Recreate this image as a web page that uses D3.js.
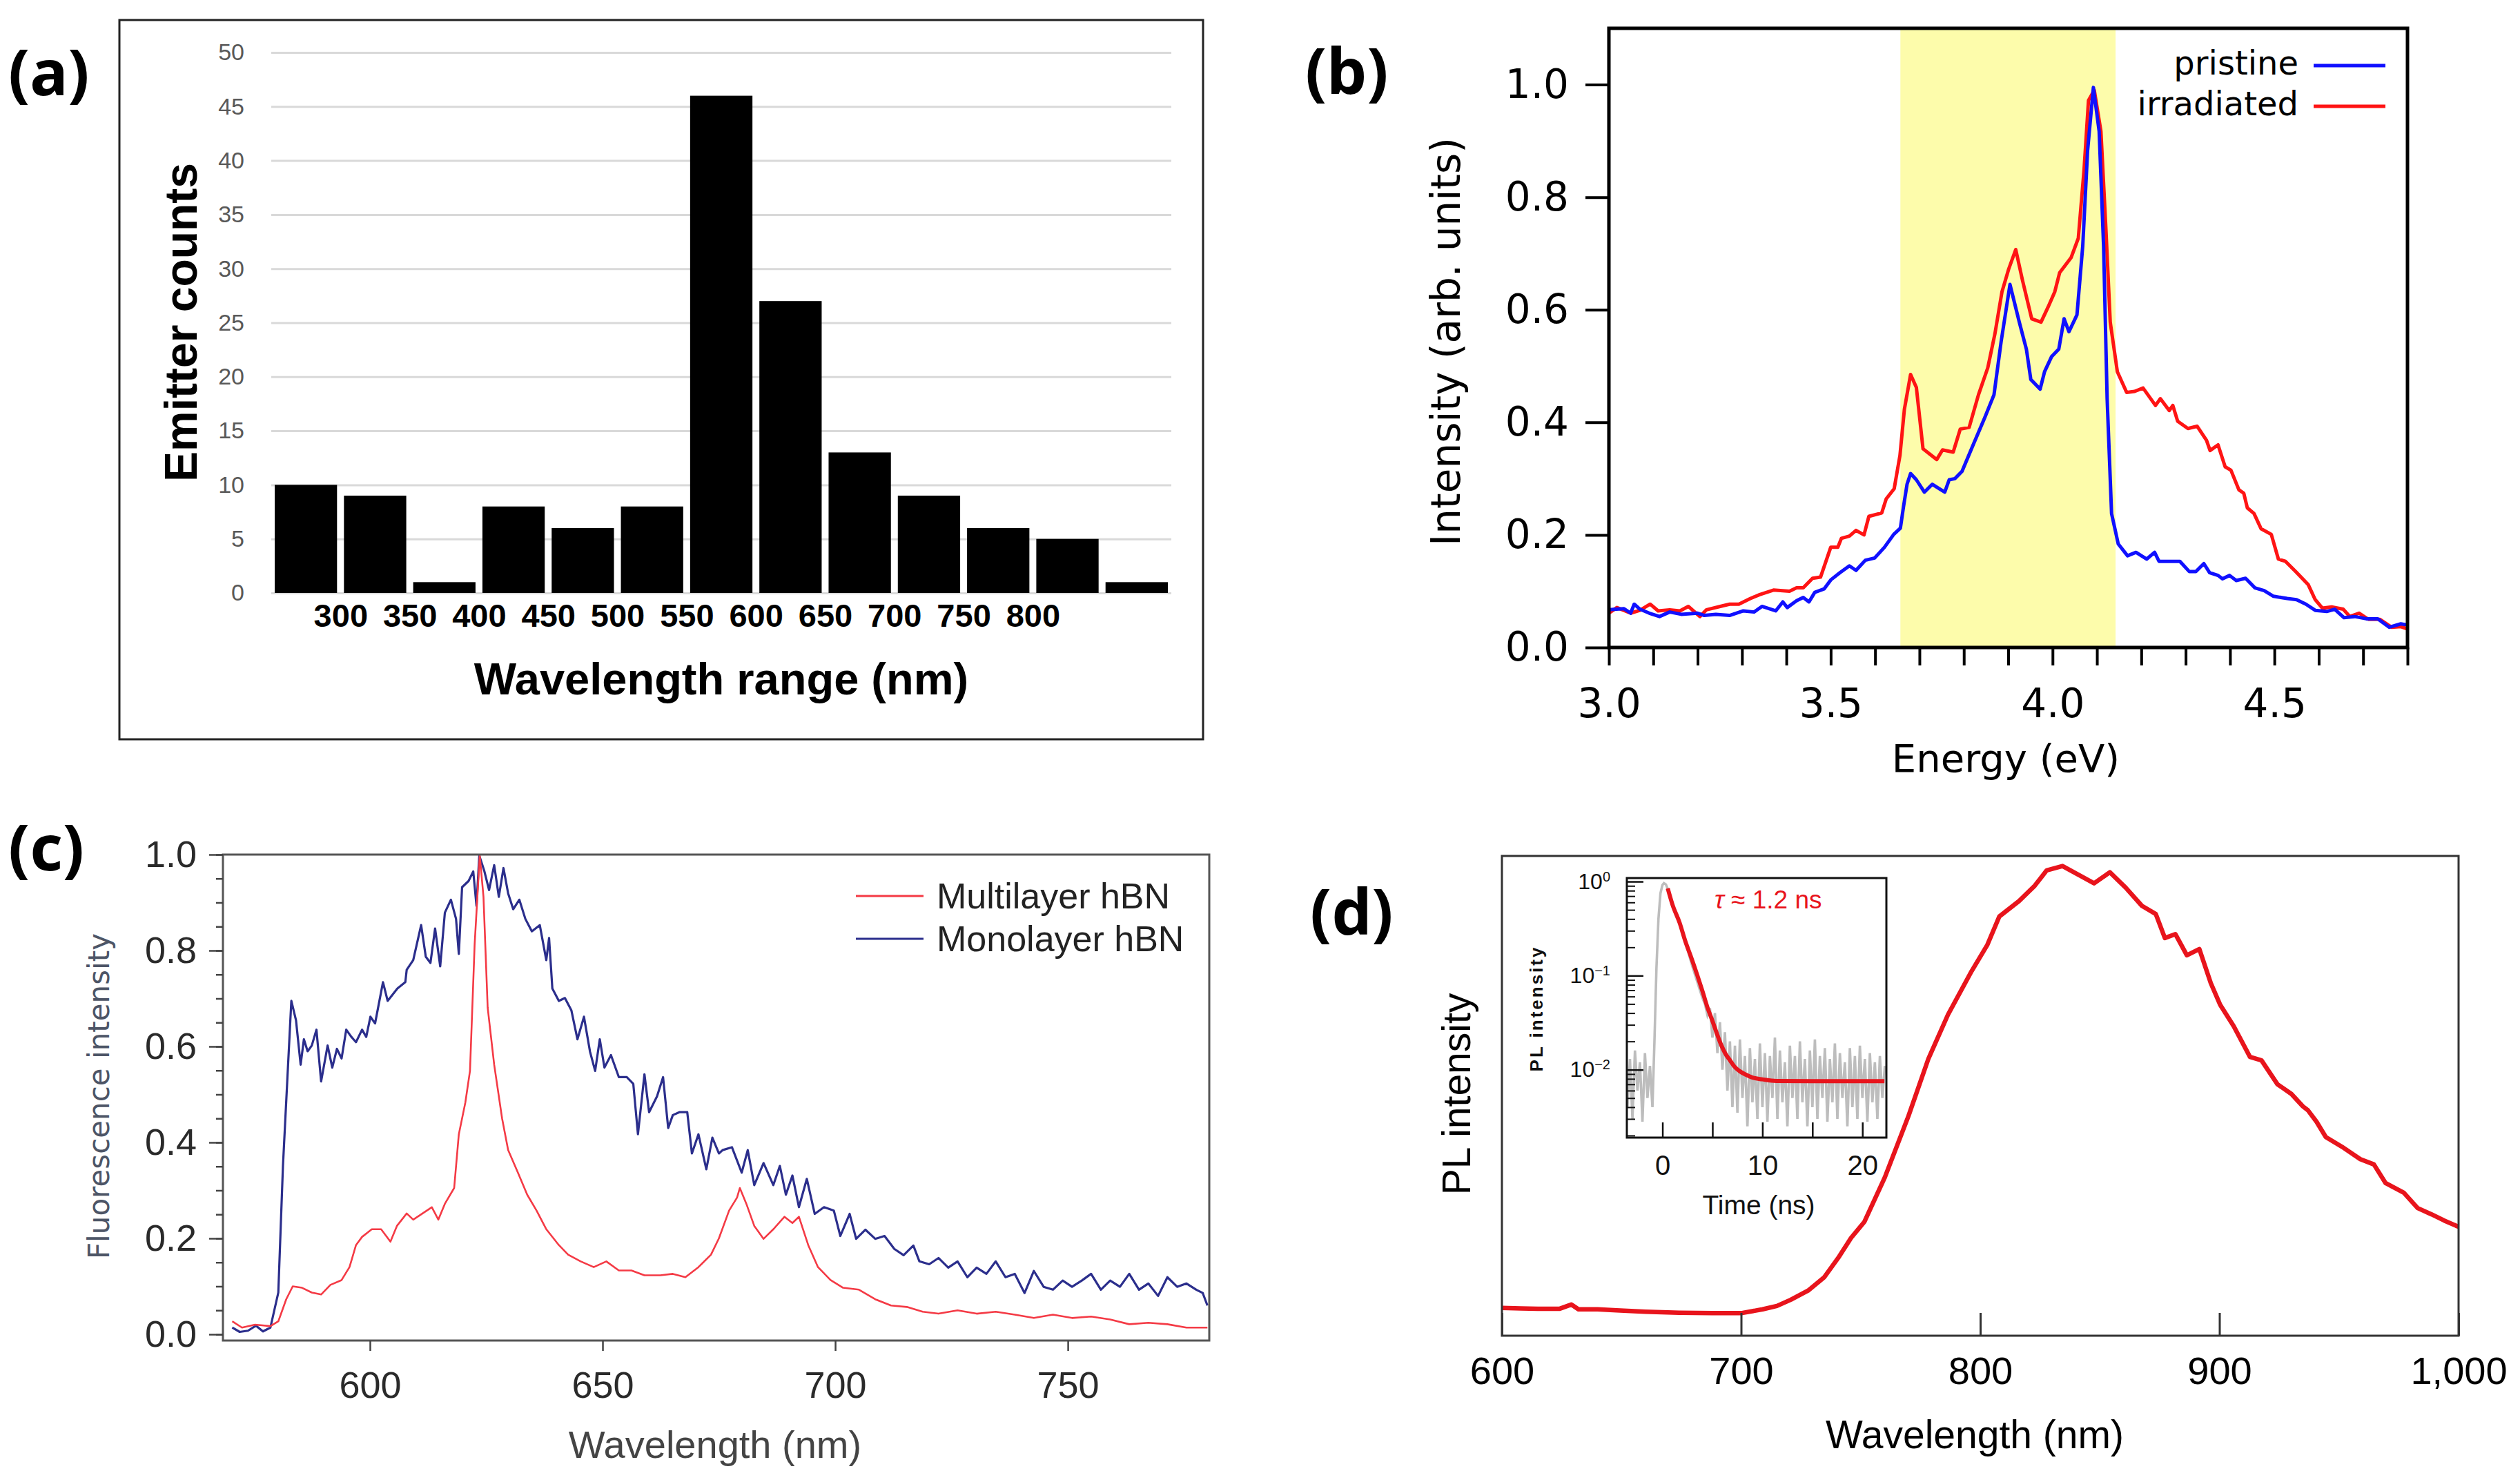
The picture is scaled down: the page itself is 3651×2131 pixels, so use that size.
<!DOCTYPE html>
<html lang="en">
<head>
<meta charset="utf-8">
<title>hBN emitters</title>
<script src="https://d3js.org/d3.v7.min.js"></script>
<style>
  body { margin: 0; background: #fff; }
  .pan { font-family: "Noto Sans", "Open Sans", sans-serif; font-weight: bold; font-size: 92px; fill: #000; }
</style>
</head>
<body>
<div id="fig"></div>
<script>
// ---------- data (a): emitter histogram ----------
var barCounts = [10, 9, 1, 8, 6, 8, 46, 27, 13, 9, 6, 5, 1];
var barTickLabels = ["300", "350", "400", "450", "500", "550", "600", "650", "700", "750", "800"];
var countTicks = [0, 5, 10, 15, 20, 25, 30, 35, 40, 45, 50];

// ---------- data (b): energy (eV), intensity ----------
var bandEV = [3.657, 4.142];
var pristine = [[3.0,0.067],[3.034,0.069],[3.049,0.061],[3.057,0.077],[3.07,0.068],[3.091,0.061],[3.114,0.055],[3.137,0.063],[3.163,0.059],[3.2,0.061],[3.215,0.057],[3.241,0.059],[3.272,0.057],[3.303,0.065],[3.327,0.063],[3.345,0.073],[3.376,0.065],[3.392,0.081],[3.402,0.071],[3.423,0.083],[3.438,0.089],[3.451,0.081],[3.464,0.098],[3.485,0.104],[3.5,0.12],[3.521,0.133],[3.542,0.145],[3.557,0.137],[3.578,0.155],[3.599,0.159],[3.621,0.178],[3.642,0.201],[3.657,0.212],[3.664,0.25],[3.672,0.29],[3.68,0.309],[3.693,0.298],[3.711,0.276],[3.729,0.29],[3.745,0.282],[3.757,0.276],[3.767,0.298],[3.78,0.3],[3.796,0.313],[3.821,0.36],[3.847,0.408],[3.868,0.449],[3.884,0.543],[3.904,0.645],[3.925,0.578],[3.941,0.53],[3.951,0.476],[3.972,0.459],[3.982,0.49],[3.998,0.517],[4.014,0.53],[4.026,0.584],[4.037,0.561],[4.055,0.591],[4.068,0.713],[4.079,0.883],[4.092,0.995],[4.105,0.917],[4.115,0.713],[4.123,0.442],[4.133,0.238],[4.148,0.184],[4.169,0.163],[4.188,0.169],[4.212,0.157],[4.23,0.169],[4.24,0.153],[4.263,0.153],[4.287,0.153],[4.308,0.135],[4.323,0.135],[4.341,0.149],[4.354,0.133],[4.373,0.128],[4.383,0.122],[4.399,0.128],[4.414,0.119],[4.435,0.123],[4.456,0.106],[4.477,0.101],[4.498,0.091],[4.529,0.087],[4.55,0.085],[4.571,0.077],[4.592,0.066],[4.618,0.064],[4.636,0.068],[4.657,0.053],[4.681,0.055],[4.707,0.051],[4.733,0.051],[4.759,0.036],[4.785,0.042],[4.8,0.04]];
var irradiated = [[3.0,0.061],[3.018,0.071],[3.049,0.061],[3.07,0.066],[3.093,0.077],[3.111,0.065],[3.137,0.067],[3.16,0.065],[3.179,0.073],[3.205,0.055],[3.22,0.067],[3.251,0.073],[3.272,0.077],[3.293,0.077],[3.319,0.087],[3.34,0.094],[3.371,0.102],[3.407,0.1],[3.423,0.106],[3.438,0.106],[3.459,0.123],[3.477,0.125],[3.5,0.178],[3.516,0.178],[3.524,0.194],[3.542,0.198],[3.557,0.208],[3.575,0.2],[3.586,0.233],[3.615,0.239],[3.625,0.264],[3.643,0.282],[3.656,0.341],[3.666,0.423],[3.68,0.485],[3.693,0.462],[3.708,0.353],[3.724,0.343],[3.739,0.334],[3.752,0.351],[3.776,0.347],[3.792,0.388],[3.812,0.391],[3.833,0.449],[3.854,0.497],[3.87,0.557],[3.886,0.632],[3.901,0.672],[3.917,0.707],[3.932,0.653],[3.953,0.584],[3.974,0.578],[3.99,0.605],[4.005,0.632],[4.016,0.666],[4.042,0.693],[4.058,0.727],[4.071,0.849],[4.081,0.972],[4.094,0.99],[4.109,0.917],[4.12,0.747],[4.13,0.578],[4.146,0.49],[4.167,0.453],[4.185,0.455],[4.204,0.461],[4.232,0.43],[4.243,0.442],[4.263,0.421],[4.271,0.43],[4.282,0.402],[4.305,0.389],[4.326,0.393],[4.347,0.368],[4.355,0.35],[4.373,0.36],[4.389,0.321],[4.402,0.315],[4.42,0.28],[4.431,0.274],[4.439,0.248],[4.454,0.238],[4.47,0.211],[4.493,0.201],[4.509,0.157],[4.525,0.153],[4.548,0.135],[4.576,0.112],[4.592,0.085],[4.608,0.07],[4.629,0.072],[4.655,0.068],[4.67,0.055],[4.691,0.061],[4.712,0.05],[4.738,0.05],[4.764,0.036],[4.785,0.037],[4.8,0.033]];
var bXTicks = [3.0, 3.5, 4.0, 4.5];
var bYTicks = [0, 0.2, 0.4, 0.6, 0.8, 1.0];

// ---------- data (c): wavelength (nm), fluorescence ----------
var monolayer = [[570.4,0.014],[572,0.005],[573.8,0.0075],[575.5,0.018],[577,0.006],[578.6,0.014],[580.3,0.087],[581.3,0.351],[582.4,0.562],[583.1,0.695],[584.1,0.655],[585.1,0.562],[585.8,0.615],[586.6,0.59],[587.5,0.602],[588.5,0.635],[589.5,0.527],[590.9,0.602],[591.9,0.556],[592.9,0.595],[593.9,0.575],[594.9,0.635],[596,0.62],[597,0.609],[598.3,0.635],[599.2,0.62],[600.1,0.662],[601.1,0.648],[602.8,0.734],[603.8,0.695],[605.9,0.721],[607.6,0.734],[607.9,0.76],[609.3,0.78],[611,0.853],[612,0.787],[613,0.774],[614,0.846],[615.1,0.767],[616.1,0.879],[617.4,0.906],[618.5,0.866],[619.1,0.793],[619.8,0.932],[621.2,0.945],[622.2,0.965],[622.9,0.893],[623.5,0.998],[624.6,0.965],[625.6,0.926],[626.7,0.978],[627.7,0.912],[628.7,0.972],[629.7,0.919],[630.8,0.886],[632.1,0.906],[633.4,0.866],[634.8,0.84],[636.5,0.853],[637.9,0.78],[638.5,0.826],[639.2,0.721],[640.6,0.695],[641.9,0.701],[643.3,0.675],[644.6,0.615],[646,0.662],[647.3,0.589],[648.4,0.549],[649.4,0.615],[650.4,0.556],[651.8,0.582],[653.5,0.536],[655.2,0.536],[656.6,0.522],[657.6,0.417],[659,0.542],[660,0.463],[661.7,0.496],[663,0.536],[664.1,0.43],[665.1,0.457],[666.5,0.463],[668.2,0.463],[669.2,0.377],[670.6,0.417],[672.3,0.344],[673.6,0.41],[675,0.377],[675.8,0.384],[677.8,0.39],[679.9,0.337],[681.2,0.384],[682.6,0.311],[684.6,0.357],[686.7,0.311],[688.1,0.351],[689.4,0.291],[690.8,0.331],[692.2,0.265],[693.9,0.324],[695.6,0.251],[697.6,0.265],[699.7,0.258],[701.1,0.205],[703.1,0.251],[704.5,0.199],[706.5,0.218],[708.6,0.199],[710.6,0.205],[712.7,0.178],[714.7,0.165],[716.8,0.185],[718.1,0.152],[720.2,0.146],[722.2,0.159],[724.3,0.139],[726.3,0.152],[728.4,0.119],[730.4,0.139],[732.5,0.126],[734.5,0.152],[736.6,0.119],[738.6,0.126],[740.7,0.086],[742.7,0.132],[744.8,0.099],[746.8,0.093],[748.9,0.112],[750.9,0.099],[753,0.112],[755,0.126],[757.1,0.093],[759.1,0.112],[761.2,0.099],[763.2,0.126],[765.3,0.093],[767.3,0.106],[769.4,0.08],[771.4,0.119],[773.5,0.099],[775.5,0.106],[777.6,0.093],[779,0.086],[780,0.06]];
var multilayer = [[570.4,0.027],[572.5,0.014],[575.3,0.02],[578.6,0.017],[580.3,0.027],[582,0.073],[583.4,0.1],[585.4,0.097],[587.5,0.087],[589.5,0.083],[591.5,0.103],[593.9,0.113],[595.6,0.14],[597,0.186],[598.3,0.203],[600.4,0.219],[602.4,0.219],[604.4,0.193],[605.8,0.226],[607.9,0.252],[609.3,0.239],[611.3,0.252],[613.3,0.265],[614.7,0.239],[616.1,0.272],[618.1,0.305],[619.1,0.417],[620.5,0.483],[621.5,0.549],[622.5,0.813],[623.6,0.998],[624.4,0.912],[625.3,0.681],[626.7,0.562],[628.4,0.45],[629.7,0.384],[631.8,0.337],[633.8,0.291],[635.8,0.258],[637.9,0.219],[640.6,0.186],[642.6,0.166],[645.3,0.152],[648.1,0.14],[650.8,0.152],[653.5,0.133],[656.2,0.133],[659,0.123],[662.4,0.123],[665.1,0.126],[667.8,0.119],[670.6,0.14],[673.3,0.166],[675,0.2],[677.2,0.258],[678.9,0.285],[679.5,0.305],[680.9,0.272],[682.6,0.226],[684.6,0.199],[686.7,0.219],[689.1,0.245],[690.8,0.232],[692.2,0.245],[694.2,0.186],[696.3,0.14],[699,0.113],[701.7,0.097],[705.1,0.093],[708.6,0.073],[712,0.06],[715.4,0.057],[718.8,0.047],[722.2,0.043],[726.3,0.05],[730.4,0.043],[734.5,0.047],[738.6,0.041],[742.7,0.034],[746.8,0.041],[750.9,0.034],[755,0.037],[759.1,0.031],[763.2,0.021],[767.3,0.024],[771.4,0.021],[775.5,0.014],[780,0.014]];
var cXTicks = [600, 650, 700, 750];
var cYTicks = [0, 0.2, 0.4, 0.6, 0.8, 1.0];

// ---------- data (d): PL spectrum and lifetime inset ----------
var plSpectrum = [[600,0.058],[608,0.057],[615,0.056],[624,0.056],[629,0.065],[632,0.055],[640,0.055],[648,0.053],[660,0.05],[674,0.048],[688,0.047],[700,0.047],[709,0.055],[715,0.062],[720.8,0.075],[728,0.094],[734.8,0.122],[741,0.165],[746,0.204],[751.5,0.237],[760.1,0.33],[770,0.458],[778.3,0.577],[786.5,0.669],[796.4,0.76],[803,0.815],[808,0.874],[816.2,0.906],[822.8,0.938],[827.8,0.97],[834.4,0.979],[841,0.961],[847.6,0.943],[854.2,0.966],[860.8,0.934],[867.6,0.896],[873.4,0.879],[877.2,0.829],[881.6,0.837],[886.4,0.793],[891.6,0.806],[896.4,0.735],[900.3,0.69],[906,0.645],[912.8,0.581],[917.6,0.574],[924.3,0.524],[930.1,0.504],[934.9,0.478],[937,0.47],[940.6,0.446],[944.5,0.414],[951.2,0.394],[958.9,0.368],[964.6,0.357],[969.5,0.318],[977.1,0.298],[982.9,0.266],[988.7,0.253],[994,0.24],[1000,0.227]];
var dXTicks = [600, 700, 800, 900, 1000];
var lifetimeFit = [[0.53,0.845],[1.0,0.57],[1.72,0.364],[2.3,0.23],[2.87,0.157],[3.5,0.1],[4.02,0.0675],[4.5,0.046],[4.94,0.0344],[5.4,0.025],[5.86,0.0185],[6.3,0.0148],[6.78,0.0125],[7.2,0.0108],[7.7,0.0097],[8.4,0.0088],[9.08,0.0082],[10,0.0079],[11.38,0.0076],[14.83,0.00757],[22.2,0.00757]];
var lifetimeRaw = [[-3.5,0.004],[-3.25,0.013],[-3.0,0.003],[-2.75,0.016],[-2.5,0.006],[-2.25,0.012],[-2.0,0.0028],[-1.75,0.015],[-1.5,0.005],[-1.25,0.011],[-1.0,0.004],[-0.8,0.02],[-0.6,0.12],[-0.4,0.4],[-0.2,0.75],[0.0,0.92],[0.15,0.96],[0.35,0.93],[0.6,0.8],[1.0,0.57],[1.5,0.43],[2.0,0.29],[2.5,0.19],[3.0,0.125],[3.5,0.085],[4.0,0.058],[4.25,0.05],[4.5,0.038],[4.75,0.045],[5.0,0.022],[5.25,0.04],[5.5,0.015],[5.75,0.032],[6.0,0.01],[6.25,0.025],[6.5,0.006],[6.75,0.02],[7.0,0.004],[7.25,0.018],[7.5,0.0035],[7.75,0.021],[8.0,0.005],[8.25,0.014],[8.5,0.0025],[8.75,0.017],[9.0,0.0045],[9.25,0.013],[9.5,0.003],[9.75,0.019],[10.0,0.004],[10.25,0.015],[10.5,0.0028],[10.75,0.014],[11.0,0.005],[11.25,0.022],[11.5,0.003],[11.75,0.016],[12.0,0.0045],[12.25,0.012],[12.5,0.0025],[12.75,0.018],[13.0,0.005],[13.25,0.014],[13.5,0.003],[13.75,0.02],[14.0,0.0045],[14.25,0.013],[14.5,0.0025],[14.75,0.016],[15.0,0.004],[15.25,0.021],[15.5,0.003],[15.75,0.014],[16.0,0.005],[16.25,0.017],[16.5,0.0028],[16.75,0.013],[17.0,0.0045],[17.25,0.019],[17.5,0.003],[17.75,0.015],[18.0,0.005],[18.25,0.012],[18.5,0.0025],[18.75,0.017],[19.0,0.004],[19.25,0.014],[19.5,0.003],[19.75,0.018],[20.0,0.005],[20.25,0.013],[20.5,0.0028],[20.75,0.015],[21.0,0.0045],[21.25,0.012],[21.5,0.003],[21.75,0.014],[22.0,0.005],[22.25,0.011]];
var insetXTicks = [0, 5, 10, 15, 20];
var insetXLabels = [0, 10, 20];
var insetDecades = [1, 0.1, 0.01];

var W = 3651, H = 2131;
var svg = d3.select("#fig").append("svg").attr("width", W).attr("height", H);
svg.append("rect").attr("width", W).attr("height", H).attr("fill", "#fff");

function styleAxis(g, family, size, color, weight) {
  g.attr("font-family", family).attr("font-size", size).attr("fill", null);
  g.selectAll("text").attr("fill", color).attr("font-weight", weight || "normal");
}

// ========== (a) ==========
var aX = d3.scaleBand().domain(d3.range(barCounts.length)).range([393, 1697]).paddingInner(0.1).paddingOuter(0.05);
var aY = d3.scaleLinear().domain([0, 50]).range([859, 76]);
var aEdge = d3.scaleLinear().domain([0, barCounts.length]).range([393, 1697]);

svg.append("rect").attr("x", 173).attr("y", 29).attr("width", 1570).attr("height", 1042)
  .attr("fill", "none").attr("stroke", "#222").attr("stroke-width", 3);

var aGrid = svg.append("g").attr("transform", "translate(393,0)")
  .call(d3.axisLeft(aY).tickValues(countTicks).tickSize(-1304).tickFormat(""));
aGrid.select(".domain").remove();
aGrid.selectAll("line").attr("stroke", "#d9d9d9").attr("stroke-width", 3);

var aYAxis = svg.append("g").attr("transform", "translate(393,0)")
  .call(d3.axisLeft(aY).tickValues(countTicks).tickSize(0).tickPadding(39));
aYAxis.select(".domain").remove();
styleAxis(aYAxis, "Liberation Sans, Arial, sans-serif", 34, "#595959");

svg.append("g").selectAll("rect").data(barCounts).enter().append("rect")
  .attr("x", function(d, i) { return aX(i); })
  .attr("y", function(d) { return aY(d); })
  .attr("width", aX.bandwidth())
  .attr("height", function(d) { return aY(0) - aY(d); })
  .attr("fill", "#000");

var aXAxis = svg.append("g").attr("transform", "translate(0,859)")
  .call(d3.axisBottom(aEdge).tickValues(d3.range(1, barTickLabels.length + 1))
    .tickFormat(function(i) { return barTickLabels[i - 1]; }).tickSize(0).tickPadding(16));
aXAxis.select(".domain").remove();
styleAxis(aXAxis, "Liberation Sans Narrow, Arial Narrow, sans-serif", 47, "#000", "bold");

svg.append("text").attr("transform", "translate(262,467) rotate(-90)")
  .attr("text-anchor", "middle").attr("dominant-baseline", "central")
  .attr("font-family", "Liberation Sans, Arial, sans-serif").attr("font-weight", "bold").attr("font-size", 66)
  .text("Emitter counts");
svg.append("text").attr("x", 1045).attr("y", 983)
  .attr("text-anchor", "middle").attr("dominant-baseline", "central")
  .attr("font-family", "Liberation Sans, Arial, sans-serif").attr("font-weight", "bold").attr("font-size", 65)
  .text("Wavelength range (nm)");

// ========== (b) ==========
var bX = d3.scaleLinear().domain([3.0, 4.8]).range([2331, 3488]);
var bY = d3.scaleLinear().domain([0, 1.1]).range([938, 41]);

svg.append("rect").attr("x", bX(bandEV[0])).attr("y", bY(1.1))
  .attr("width", bX(bandEV[1]) - bX(bandEV[0])).attr("height", bY(0) - bY(1.1))
  .attr("fill", "#fdfcab");

var bLine = d3.line().x(function(d) { return bX(d[0]); }).y(function(d) { return bY(d[1]); });
svg.append("path").datum(irradiated).attr("d", bLine).attr("fill", "none")
  .attr("stroke", "#ff1414").attr("stroke-width", 5).attr("stroke-linejoin", "round");
svg.append("path").datum(pristine).attr("d", bLine).attr("fill", "none")
  .attr("stroke", "#1010ff").attr("stroke-width", 5).attr("stroke-linejoin", "round");

var bXAxis = svg.append("g").attr("transform", "translate(0,938)")
  .call(d3.axisBottom(bX).tickValues(d3.range(30, 49).map(function(v) { return v / 10; }))
    .tickSize(26).tickPadding(34)
    .tickFormat(function(v) {
      return bXTicks.some(function(t) { return Math.abs(t - v) < 1e-6; }) ? d3.format(".1f")(v) : "";
    }));
bXAxis.select(".domain").remove();
bXAxis.selectAll("line").attr("stroke", "#000").attr("stroke-width", 4);
styleAxis(bXAxis, "DejaVu Sans, sans-serif", 58, "#000");

var bYAxis = svg.append("g").attr("transform", "translate(2331,0)")
  .call(d3.axisLeft(bY).tickValues(bYTicks).tickSize(34).tickPadding(24).tickFormat(d3.format(".1f")));
bYAxis.select(".domain").remove();
bYAxis.selectAll("line").attr("stroke", "#000").attr("stroke-width", 4);
styleAxis(bYAxis, "DejaVu Sans, sans-serif", 58, "#000");

svg.append("rect").attr("x", 2331).attr("y", bY(1.1)).attr("width", 3488 - 2331).attr("height", bY(0) - bY(1.1))
  .attr("fill", "none").attr("stroke", "#000").attr("stroke-width", 5);

svg.append("text").attr("x", 2906).attr("y", 1098).attr("text-anchor", "middle").attr("dominant-baseline", "central")
  .attr("font-family", "DejaVu Sans, sans-serif").attr("font-size", 56).text("Energy (eV)");
svg.append("text").attr("transform", "translate(2095,495) rotate(-90)")
  .attr("text-anchor", "middle").attr("dominant-baseline", "central")
  .attr("font-family", "DejaVu Sans, sans-serif").attr("font-size", 58).text("Intensity (arb. units)");

var bLegend = [["pristine", "#1010ff", 91], ["irradiated", "#ff1414", 150]];
bLegend.forEach(function(l) {
  svg.append("text").attr("x", 3330).attr("y", l[2]).attr("text-anchor", "end").attr("dominant-baseline", "central")
    .attr("font-family", "DejaVu Sans, sans-serif").attr("font-size", 48).text(l[0]);
  svg.append("line").attr("x1", 3352).attr("x2", 3456).attr("y1", l[2] + 4).attr("y2", l[2] + 4)
    .attr("stroke", l[1]).attr("stroke-width", 5);
});

// ========== (c) ==========
var cX = d3.scaleLinear().domain([568.4, 780.4]).range([323, 1752]);
var cY = d3.scaleLinear().domain([-0.013, 1.0]).range([1942, 1238]);
var cLine = d3.line().x(function(d) { return cX(d[0]); }).y(function(d) { return cY(d[1]); });

svg.append("path").datum(monolayer).attr("d", cLine).attr("fill", "none")
  .attr("stroke", "#2b2e8c").attr("stroke-width", 3.2).attr("stroke-linejoin", "round");
svg.append("path").datum(multilayer).attr("d", cLine).attr("fill", "none")
  .attr("stroke", "#f43a45").attr("stroke-width", 2.6).attr("stroke-linejoin", "round");

svg.append("rect").attr("x", 323).attr("y", 1238).attr("width", 1752 - 323).attr("height", 1942 - 1238)
  .attr("fill", "none").attr("stroke", "#555").attr("stroke-width", 3);

var cMinor = svg.append("g").attr("transform", "translate(323,0)")
  .call(d3.axisLeft(cY).tickValues(d3.range(0, 21).map(function(v) { return v / 20; })).tickSize(10).tickFormat(""));
cMinor.select(".domain").remove();
cMinor.selectAll("line").attr("stroke", "#444").attr("stroke-width", 2.5);

var cYAxis = svg.append("g").attr("transform", "translate(323,0)")
  .call(d3.axisLeft(cY).tickValues(cYTicks).tickSize(20).tickPadding(18).tickFormat(d3.format(".1f")));
cYAxis.select(".domain").remove();
cYAxis.selectAll("line").attr("stroke", "#444").attr("stroke-width", 2.5);
styleAxis(cYAxis, "Liberation Sans Narrow, Arial Narrow, sans-serif", 54, "#2a2a2a");

var cXAxis = svg.append("g").attr("transform", "translate(0,1942)")
  .call(d3.axisBottom(cX).tickValues(cXTicks).tickSize(15).tickPadding(30));
cXAxis.select(".domain").remove();
cXAxis.selectAll("line").attr("stroke", "#444").attr("stroke-width", 2.5);
styleAxis(cXAxis, "Liberation Sans Narrow, Arial Narrow, sans-serif", 54, "#2a2a2a");

svg.append("text").attr("x", 1036).attr("y", 2092).attr("text-anchor", "middle").attr("dominant-baseline", "central")
  .attr("font-family", "Liberation Sans Narrow, Arial Narrow, sans-serif").attr("font-size", 56).attr("fill", "#444")
  .text("Wavelength (nm)");
svg.append("text").attr("transform", "translate(143,1588) rotate(-90)")
  .attr("text-anchor", "middle").attr("dominant-baseline", "central")
  .attr("font-family", "DejaVu Sans, sans-serif").attr("font-size", 42).attr("fill", "#4d5566")
  .text("Fluorescence intensity");

var cLegend = [["Multilayer hBN", "#f43a45", 1298], ["Monolayer hBN", "#2b2e8c", 1360]];
cLegend.forEach(function(l) {
  svg.append("line").attr("x1", 1240).attr("x2", 1338).attr("y1", l[2]).attr("y2", l[2])
    .attr("stroke", l[1]).attr("stroke-width", 3);
  svg.append("text").attr("x", 1357).attr("y", l[2]).attr("dominant-baseline", "central")
    .attr("font-family", "Liberation Sans Narrow, Arial Narrow, sans-serif").attr("font-size", 52).attr("fill", "#222")
    .text(l[0]);
});

// ========== (d) ==========
var dX = d3.scaleLinear().domain([600, 1000]).range([2176, 3562]);
var dY = d3.scaleLinear().domain([0, 1]).range([1935, 1240]);
svg.append("path").datum(plSpectrum)
  .attr("d", d3.line().x(function(d) { return dX(d[0]); }).y(function(d) { return dY(d[1]); }))
  .attr("fill", "none").attr("stroke", "#e8141c").attr("stroke-width", 6.5).attr("stroke-linejoin", "round");

svg.append("rect").attr("x", 2176).attr("y", 1240).attr("width", 3562 - 2176).attr("height", 1935 - 1240)
  .attr("fill", "none").attr("stroke", "#333").attr("stroke-width", 3);

var dXAxis = svg.append("g").attr("transform", "translate(0,1935)")
  .call(d3.axisBottom(dX).tickValues(dXTicks).tickSize(-33).tickPadding(30).tickFormat(d3.format(",")));
dXAxis.select(".domain").remove();
dXAxis.selectAll("line").attr("stroke", "#333").attr("stroke-width", 3);
styleAxis(dXAxis, "Liberation Sans, Arial, sans-serif", 56, "#000");

svg.append("text").attr("x", 2861).attr("y", 2078).attr("text-anchor", "middle").attr("dominant-baseline", "central")
  .attr("font-family", "Liberation Sans, Arial, sans-serif").attr("font-size", 57).text("Wavelength (nm)");
svg.append("text").attr("transform", "translate(2110,1585) rotate(-90)")
  .attr("text-anchor", "middle").attr("dominant-baseline", "central")
  .attr("font-family", "Liberation Sans, Arial, sans-serif").attr("font-size", 57).text("PL intensity");

// inset
var iX = d3.scaleLinear().domain([-3.56, 22.4]).range([2357, 2733]);
var iY = d3.scaleLog().domain([0.0019, 1.089]).range([1648, 1272]);
svg.append("rect").attr("x", 2357).attr("y", 1272).attr("width", 2733 - 2357).attr("height", 1648 - 1272).attr("fill", "#fff");
svg.append("clipPath").attr("id", "insetClip").append("rect")
  .attr("x", 2357).attr("y", 1272).attr("width", 2733 - 2357).attr("height", 1648 - 1272);
var iLine = d3.line().x(function(d) { return iX(d[0]); }).y(function(d) { return iY(d[1]); });
svg.append("path").datum(lifetimeRaw).attr("d", iLine).attr("clip-path", "url(#insetClip)")
  .attr("fill", "none").attr("stroke", "#bdbdbd").attr("stroke-width", 3.6);
svg.append("path").datum(lifetimeFit).attr("d", iLine.curve(d3.curveMonotoneX)).attr("clip-path", "url(#insetClip)")
  .attr("fill", "none").attr("stroke", "#e8141c").attr("stroke-width", 6);

var minorDecades = [];
[0.001, 0.01, 0.1].forEach(function(dec) {
  d3.range(2, 10).forEach(function(m) { if (dec * m > 0.0019 && dec * m < 1.089) minorDecades.push(dec * m); });
});
var iMinor = svg.append("g").attr("transform", "translate(2357,0)")
  .call(d3.axisLeft(iY).tickValues(minorDecades).tickSize(-12).tickFormat(""));
iMinor.select(".domain").remove();
iMinor.selectAll("line").attr("stroke", "#111").attr("stroke-width", 2);

var iYAxis = svg.append("g").attr("transform", "translate(2357,0)")
  .call(d3.axisLeft(iY).tickValues(insetDecades).tickSize(-24).tickPadding(24).tickFormat(function() { return ""; }));
iYAxis.select(".domain").remove();
iYAxis.selectAll("line").attr("stroke", "#111").attr("stroke-width", 2.5);
styleAxis(iYAxis, "Liberation Sans, Arial, sans-serif", 32, "#111");
iYAxis.selectAll(".tick text").each(function(d) {
  var t = d3.select(this).text("10");
  t.append("tspan").attr("dy", "-0.55em").attr("font-size", 20)
    .text(String(Math.round(Math.log10(d))).replace("-", "\u2212"));
});

var iXAxis = svg.append("g").attr("transform", "translate(0,1648)")
  .call(d3.axisBottom(iX).tickValues(insetXTicks).tickSize(-22).tickPadding(26)
    .tickFormat(function(v) { return insetXLabels.indexOf(v) >= 0 ? String(v) : ""; }));
iXAxis.select(".domain").remove();
iXAxis.selectAll("line").attr("stroke", "#111").attr("stroke-width", 2.5);
styleAxis(iXAxis, "Liberation Sans, Arial, sans-serif", 40, "#111");

svg.append("rect").attr("x", 2357).attr("y", 1272).attr("width", 2733 - 2357).attr("height", 1648 - 1272)
  .attr("fill", "none").attr("stroke", "#111").attr("stroke-width", 3);

svg.append("text").attr("x", 2548).attr("y", 1745).attr("text-anchor", "middle").attr("dominant-baseline", "central")
  .attr("font-family", "Liberation Sans, Arial, sans-serif").attr("font-size", 39).attr("fill", "#111").text("Time (ns)");
svg.append("text").attr("transform", "translate(2226,1461) rotate(-90)")
  .attr("text-anchor", "middle").attr("dominant-baseline", "central")
  .attr("font-family", "Liberation Sans, Arial, sans-serif").attr("font-weight", "bold").attr("font-size", 26)
  .attr("letter-spacing", 3).attr("fill", "#111").text("PL intensity");
var tau = svg.append("text").attr("x", 2484).attr("y", 1303).attr("dominant-baseline", "central")
  .attr("font-family", "Liberation Sans, Arial, sans-serif").attr("font-size", 37).attr("fill", "#e8141c");
tau.append("tspan").attr("font-style", "italic").text("\u03c4");
tau.append("tspan").text(" \u2248 1.2 ns");

// ========== panel letters ==========
var panelLetters = [["(a)", 12, 138], ["(b)", 1891, 136], ["(c)", 12, 1261], ["(d)", 1898, 1354]];
svg.selectAll("text.pan").data(panelLetters).enter().append("text").attr("class", "pan")
  .attr("x", function(d) { return d[1]; }).attr("y", function(d) { return d[2]; })
  .text(function(d) { return d[0]; });
</script>
</body>
</html>
